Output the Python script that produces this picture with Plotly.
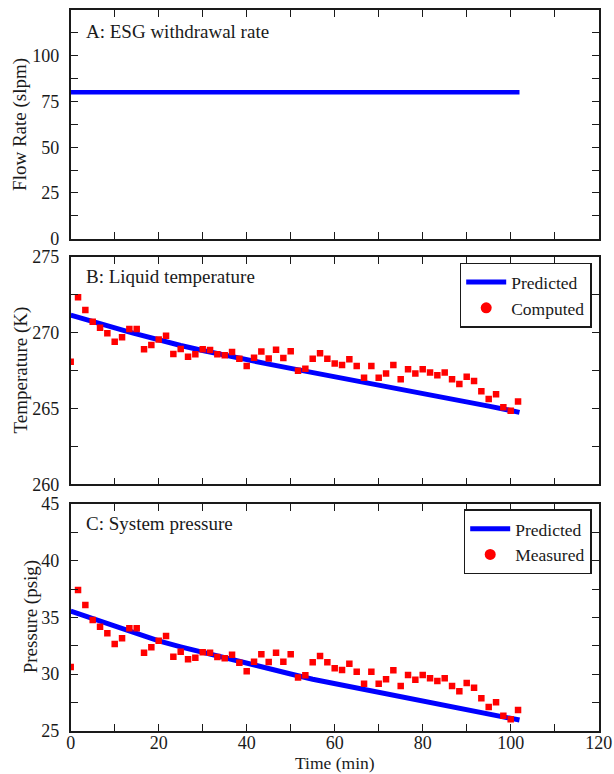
import plotly.graph_objects as go

# ---------------- data ----------------
flow_time = [0, 102]
flow_rate = [80, 80]

pred_time = [0, 2, 4, 6, 8, 10, 12, 14, 16, 18, 20, 25, 30, 35, 40, 45, 50, 55,
             60, 65, 70, 75, 80, 85, 90, 95, 100, 102]
pred_temp = [271.15, 270.97, 270.8, 270.63, 270.46, 270.3, 270.14, 269.98, 269.82,
             269.66, 269.5, 269.15, 268.82, 268.5, 268.2, 267.92, 267.64, 267.37,
             267.1, 266.83, 266.56, 266.28, 266.0, 265.72, 265.44, 265.15, 264.86, 264.74]
pred_press = [35.55, 35.28, 35.02, 34.76, 34.5, 34.24, 33.98, 33.72, 33.46, 33.2,
              32.92, 32.4, 31.9, 31.4, 30.9, 30.45, 30.0, 29.54, 29.16, 28.77, 28.4,
              28.04, 27.67, 27.28, 26.89, 26.5, 26.1, 25.94]

obs_time = [0, 1.67, 3.33, 5.0, 6.67, 8.33, 10.0, 11.67, 13.33, 15.0, 16.67, 18.33,
            20.0, 21.67, 23.33, 25.0, 26.67, 28.33, 30.0, 31.67, 33.33, 35.0, 36.67,
            38.33, 40.0, 41.67, 43.33, 45.0, 46.67, 48.33, 50.0, 51.67, 53.33, 55.0,
            56.67, 58.33, 60.0, 61.67, 63.33, 65.0, 66.67, 68.33, 70.0, 71.67, 73.33,
            75.0, 76.67, 78.33, 80.0, 81.67, 83.33, 85.0, 86.67, 88.33, 90.0, 91.67,
            93.33, 95.0, 96.67, 98.33, 100.0, 101.67]
computed_temp = [268.08, 272.32, 271.49, 270.72, 270.32, 269.95, 269.40, 269.69, 270.23,
                 270.23, 268.90, 269.18, 269.55, 269.79, 268.59, 268.92, 268.41, 268.57,
                 268.90, 268.85, 268.57, 268.50, 268.72, 268.28, 267.80, 268.34, 268.76,
                 268.29, 268.86, 268.32, 268.77, 267.48, 267.61, 268.27, 268.63, 268.27,
                 267.96, 267.86, 268.24, 267.80, 267.03, 267.80, 267.03, 267.31, 267.86,
                 266.92, 267.58, 267.31, 267.58, 267.36, 267.18, 267.36, 266.92, 266.61,
                 267.09, 266.81, 266.13, 265.62, 265.93, 265.07, 264.85, 265.46]
measured_press = [30.62, 37.41, 36.09, 34.77, 34.18, 33.59, 32.65, 33.15, 34.03, 34.03,
                  31.88, 32.36, 32.94, 33.35, 31.53, 31.97, 31.30, 31.44, 31.92, 31.88,
                  31.50, 31.40, 31.70, 31.00, 30.25, 31.09, 31.74, 31.06, 31.88, 31.09,
                  31.74, 29.70, 29.90, 31.03, 31.60, 31.03, 30.50, 30.36, 30.91, 30.21,
                  29.15, 30.21, 29.15, 29.53, 30.33, 28.94, 29.91, 29.50, 29.91, 29.62,
                  29.38, 29.62, 28.94, 28.47, 29.21, 28.79, 27.86, 27.09, 27.50, 26.32,
                  26.00, 26.83]

# tick positions (every position gets a tick mark, blank text = unlabeled tick)
x_tickvals = [0, 10, 20, 30, 40, 50, 60, 70, 80, 90, 100, 110, 120]
x_ticktext = ["0", "", "20", "", "40", "", "60", "", "80", "", "100", "", "120"]
a_tickvals = [0, 12.5, 25, 37.5, 50, 62.5, 75, 87.5, 100, 112.5]
a_ticktext = ["0", "", "25", "", "50", "", "75", "", "100", ""]
b_tickvals = [260, 262.5, 265, 267.5, 270, 272.5, 275]
b_ticktext = ["260", "", "265", "", "270", "", "275"]
c_tickvals = [25, 27.5, 30, 32.5, 35, 37.5, 40, 42.5, 45]
c_ticktext = ["25", "", "30", "", "35", "", "40", "", "45"]

# ---------------- layout geometry ----------------
W, H = 614, 774
FONT = "Liberation Serif"
BLUE = "#0000ff"
RED = "#ff0000"
INK = "#1a1a1a"

def px_x(v):
    return v / W

def px_y(v):
    return 1 - v / H

xdom = [px_x(70.7), px_x(598.7)]
dom_a = [px_y(238.7), px_y(10)]
dom_b = [px_y(484.3), px_y(256.7)]
dom_c = [px_y(730.7), px_y(504)]

fig = go.Figure()

# Panel A
fig.add_trace(go.Scatter(x=flow_time, y=flow_rate, mode="lines",
                         line=dict(color=BLUE, width=4.5), showlegend=False,
                         xaxis="x", yaxis="y"))
# Panel B
fig.add_trace(go.Scatter(x=pred_time, y=pred_temp, mode="lines",
                         line=dict(color=BLUE, width=5), name="Predicted",
                         showlegend=True, legend="legend", xaxis="x2", yaxis="y2"))
fig.add_trace(go.Scatter(x=obs_time, y=computed_temp, mode="markers",
                         marker=dict(color=RED, size=6.5, symbol="square"),
                         showlegend=False, xaxis="x2", yaxis="y2"))
fig.add_trace(go.Scatter(x=[None], y=[None], mode="markers", name="Computed",
                         marker=dict(color=RED, size=11, symbol="circle"),
                         showlegend=True, legend="legend", xaxis="x2", yaxis="y2"))
# Panel C
fig.add_trace(go.Scatter(x=pred_time, y=pred_press, mode="lines",
                         line=dict(color=BLUE, width=5), name="Predicted",
                         showlegend=True, legend="legend2", xaxis="x3", yaxis="y3"))
fig.add_trace(go.Scatter(x=obs_time, y=measured_press, mode="markers",
                         marker=dict(color=RED, size=6.5, symbol="square"),
                         showlegend=False, xaxis="x3", yaxis="y3"))
fig.add_trace(go.Scatter(x=[None], y=[None], mode="markers", name="Measured",
                         marker=dict(color=RED, size=11, symbol="circle"),
                         showlegend=True, legend="legend2", xaxis="x3", yaxis="y3"))

tickfont = dict(family=FONT, size=18, color=INK)

def xaxis(anchor, show_labels):
    return dict(domain=xdom, anchor=anchor, range=[0, 120], tickmode="array",
                tickvals=x_tickvals, ticktext=x_ticktext,
                showticklabels=show_labels, ticks="inside", ticklen=7, tickwidth=1.3,
                tickcolor=INK, showline=True, linecolor=INK, linewidth=1.6,
                mirror="allticks", showgrid=False, zeroline=False,
                tickfont=tickfont, automargin=False, ticklabelstandoff=-5)

def yaxis(anchor, dom, rng, tickvals, ticktext):
    return dict(domain=dom, anchor=anchor, range=rng, tickmode="array",
                tickvals=tickvals, ticktext=ticktext,
                ticks="inside", ticklen=7, tickwidth=1.3, tickcolor=INK,
                showline=True, linecolor=INK, linewidth=1.6, mirror="allticks",
                showgrid=False, zeroline=False,
                tickfont=tickfont, automargin=False, ticklabelstandoff=6)

legend_style = dict(font=dict(family=FONT, size=17.5, color=INK),
                    bgcolor="white", bordercolor=INK, borderwidth=1.5,
                    xanchor="right", yanchor="top", tracegroupgap=0,
                    itemwidth=40)

annots = []
def ann(text, x, y, angle=0, xanchor="left", yanchor="middle", size=19):
    annots.append(dict(text=text, x=px_x(x), y=px_y(y), xref="paper", yref="paper",
                       showarrow=False, textangle=angle, xanchor=xanchor,
                       yanchor=yanchor, font=dict(family=FONT, size=size, color=INK)))

ann("A: ESG withdrawal rate", 84, 31.5)
ann("B: Liquid temperature", 84, 276.5)
ann("C: System pressure", 84, 523.5)
ann("Flow Rate (slpm)", 20.5, 124.4, angle=-90, xanchor="center")
ann("Temperature (K)", 21, 370.5, angle=-90, xanchor="center")
ann("Pressure (psig)", 31, 617.3, angle=-90, xanchor="center")
ann("Time (min)", 334.7, 763, xanchor="center", size=17.5)

fig.update_layout(
    width=W, height=H, margin=dict(l=0, r=0, t=0, b=0),
    paper_bgcolor="white", plot_bgcolor="white", template="none",
    xaxis=xaxis("y", False),
    yaxis=yaxis("x", dom_a, [0, 125], a_tickvals, a_ticktext),
    xaxis2=xaxis("y2", False),
    yaxis2=yaxis("x2", dom_b, [260, 275], b_tickvals, b_ticktext),
    xaxis3=xaxis("y3", True),
    yaxis3=yaxis("x3", dom_c, [25, 45], c_tickvals, c_ticktext),
    legend=dict(x=px_x(591.7), y=px_y(262.7), **legend_style),
    legend2=dict(x=px_x(591.7), y=px_y(509.3), **legend_style),
    annotations=annots,
    font=dict(family=FONT),
)

fig.write_html("out.html")
